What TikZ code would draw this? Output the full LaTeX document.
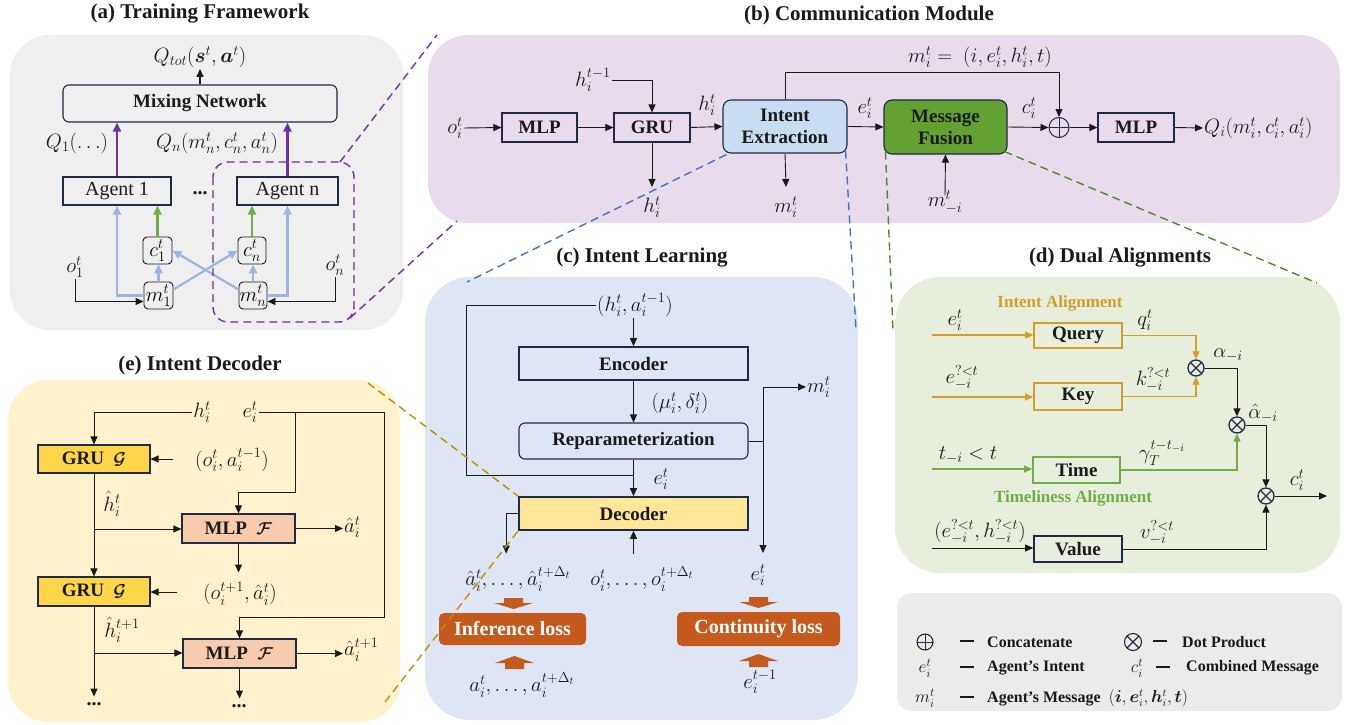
\documentclass[tikz,border=0pt]{standalone}
\usepackage{fontspec}
\setmainfont{Liberation Serif}
\usepackage{amsmath,bm}
\usetikzlibrary{arrows.meta,calc}

\definecolor{navy}{HTML}{1F2A44}
\definecolor{ink}{HTML}{1A1A1A}
\definecolor{panA}{HTML}{EFEFEF}
\definecolor{panB}{HTML}{E8DCEC}
\definecolor{panC}{HTML}{DEE5F5}
\definecolor{panD}{HTML}{E7EFDC}
\definecolor{panE}{HTML}{FFF2CC}
\definecolor{panL}{HTML}{EBEBEB}
\definecolor{purp}{HTML}{7030A0}
\definecolor{lblue}{HTML}{9DB4E2}
\definecolor{agreen}{HTML}{70AD47}
\definecolor{fusion}{HTML}{62A132}
\definecolor{intentfill}{HTML}{C8DDF2}
\definecolor{decfill}{HTML}{FFE699}
\definecolor{grufill}{HTML}{FFD54A}
\definecolor{mlpfill}{HTML}{F8CBAD}
\definecolor{lossfill}{HTML}{C55A1E}
\definecolor{gold}{HTML}{D09F2C}
\definecolor{dgold}{HTML}{BF9000}
\definecolor{dblue}{HTML}{4472C4}
\definecolor{dgreen}{HTML}{4E8A2E}

\newcommand{\legdash}{\rule[0.32ex]{14pt}{1.7pt}}

\tikzset{
  title/.style={font=\bfseries\fontsize{21}{24}\selectfont, text=ink},
  lbl/.style={font=\fontsize{21}{23}\selectfont, inner sep=1pt, text=ink},
  boxb/.style={draw=navy, line width=1.1pt, font=\bfseries\fontsize{19}{21}\selectfont,
    text=ink, inner sep=0pt, align=center},
  boxr/.style={draw=navy, line width=1.1pt, font=\fontsize{20}{22}\selectfont,
    text=ink, inner sep=0pt},
  tinybox/.style={draw=ink, line width=0.9pt, rounded corners=4pt, inner sep=0pt,
    font=\fontsize{21}{23}\selectfont},
  arr/.style={-{Triangle[length=8pt,width=7pt]}, line width=0.9pt, draw=ink},
  plainline/.style={line width=0.9pt, draw=ink},
  parr/.style={-{Triangle[length=9pt,width=8pt]}, line width=2.2pt, draw=purp},
  garrow/.style={-{Triangle[length=9pt,width=8pt]}, line width=2.2pt, draw=agreen},
  barr/.style={-{Triangle[length=9pt,width=8pt]}, line width=2.2pt, draw=lblue},
  goldarr/.style={-{Triangle[length=8pt,width=7pt]}, line width=1.1pt, draw=gold},
  grnarr/.style={-{Triangle[length=8pt,width=7pt]}, line width=1.1pt, draw=agreen},
  oplusc/.style={circle, draw=navy, line width=1pt, minimum size=20pt, inner sep=0pt,
    path picture={\draw[navy, line width=1pt]
      (path picture bounding box.north) -- (path picture bounding box.south)
      (path picture bounding box.west) -- (path picture bounding box.east);}},
  otimesc/.style={circle, draw=navy, line width=1.3pt, minimum size=16pt, inner sep=0pt,
    path picture={\draw[navy, line width=1.3pt]
      (path picture bounding box.north east) -- (path picture bounding box.south west)
      (path picture bounding box.north west) -- (path picture bounding box.south east);}},
  pdash/.style={dash pattern=on 8pt off 5pt, line width=1.4pt},
  legtxt/.style={font=\bfseries\fontsize{16}{18}\selectfont, text=ink, inner sep=0pt},
  lossbox/.style={fill=lossfill, rounded corners=5pt, text=white,
    font=\bfseries\fontsize{20}{22}\selectfont, inner sep=0pt},
}

\begin{document}
\begin{tikzpicture}[x=1pt,y=-1pt]
\useasboundingbox (0,0) rectangle (1353,725);

% ---------------- panel backgrounds ----------------
\fill[panA, rounded corners=40pt] (10,35) rectangle (403,330);
\fill[panB, rounded corners=40pt] (428,35) rectangle (1340,223);
\fill[panC, rounded corners=45pt] (425,277) rectangle (858,720);
\fill[panD, rounded corners=45pt] (895,277) rectangle (1340,573);
\fill[panE, rounded corners=40pt] (8,380) rectangle (400,722);
\fill[panL, rounded corners=15pt] (897,593) rectangle (1342,711);

% ---------------- titles ----------------
\node[title] (ta) at (200,14) {(a) Training Framework};
\node[title] (tb) at (869,15) {(b) Communication Module};
\node[title] (tc) at (642,258) {(c) Intent Learning};
\node[title] (td) at (1120,258) {(d) Dual Alignments};
\node[title] (te) at (200,365) {(e) Intent Decoder};

% ================= (a) Training Framework =================
\node[lbl] (qtot) at (200,57) {$Q_{tot}(\bm{s}^t,\bm{a}^t)$};
\node[boxb, rounded corners=6pt, minimum width=274pt, minimum height=37pt] (mix) at (200,103.5) {Mixing Network};
\draw[arr, line width=1.4pt] (mix.north) -- (qtot.south);
\node[boxr, minimum width=108pt, minimum height=28pt] (ag1) at (117,191) {Agent 1};
\node[boxr, minimum width=101pt, minimum height=28pt] (agn) at (287.5,191) {Agent n};
\node[font=\bfseries\fontsize{20}{22}\selectfont, text=ink] (adots) at (200,193) {...};
\node[lbl] (q1) at (77,143) {$Q_1(\ldots)$};
\node[lbl] (qn) at (217,143) {$Q_n(m_n^t,c_n^t,a_n^t)$};
\draw[parr] (ag1.north) -- (ag1.north |- mix.south);
\draw[parr] (agn.north) -- (agn.north |- mix.south);

\node[tinybox, minimum width=29pt, minimum height=27pt] (c1) at (157.5,250.5) {$c_1^t$};
\node[tinybox, minimum width=28pt, minimum height=27pt] (cn) at (252,250.5) {$c_n^t$};
\node[tinybox, minimum width=29pt, minimum height=27pt] (m1) at (158.5,295.5) {$m_1^t$};
\node[tinybox, minimum width=28pt, minimum height=27pt] (mn) at (253,295.5) {$m_n^t$};

\draw[garrow] (c1.north) -- (c1.north |- ag1.south);
\draw[garrow] (cn.north) -- (cn.north |- agn.south);
\draw[barr] (m1.north) -- (m1.north |- c1.south);
\draw[barr] (mn.north) -- (mn.north |- cn.south);
\draw[barr] (m1.west) -| (ag1.south);
\draw[barr] (mn.east) -| (agn.south);
\draw[barr] ($(m1.east)+(0,-6)$) -- (cn.west);
\draw[barr] ($(mn.west)+(0,-6)$) -- (c1.east);

\node[lbl] (o1) at (75,267) {$o_1^t$};
\node[lbl] (on) at (335,265) {$o_n^t$};
\draw[arr] (o1.south) |- ([yshift=-6pt]m1.west);
\draw[arr] (on.south) |- ([yshift=-6pt]mn.east);

\draw[purp, pdash, rounded corners=15pt] (213,162) rectangle (354,322);
\coordinate (pa1) at (340,162);
\coordinate (pa2) at (350,318);
\coordinate (pb1) at (437,35);
\coordinate (pb2) at (457,221);
\draw[purp, pdash] (pa1) -- (pb1);
\draw[purp, pdash] (pa2) -- (pb2);

% ================= (b) Communication Module =================
\node[lbl] (oi) at (455,128) {$o_i^t$};
\node[boxb, minimum width=75pt, minimum height=29pt] (mlpa) at (539.5,127.5) {MLP};
\node[boxb, minimum width=76pt, minimum height=29pt] (gru) at (652,127.5) {GRU};
\node[boxb, rounded corners=8pt, fill=intentfill, minimum width=124pt, minimum height=53pt,
  font=\bfseries\fontsize{19}{22}\selectfont] (ie) at (785,126.5) {Intent\\Extraction};
\node[boxb, rounded corners=8pt, fill=fusion, minimum width=123pt, minimum height=54pt,
  font=\bfseries\fontsize{19}{22}\selectfont] (fus) at (945.5,127) {Message\\Fusion};
\node[oplusc] (plus) at (1059,127.5) {};
\node[boxb, minimum width=76pt, minimum height=29pt] (mlpb) at (1136,127.5) {MLP};
\node[lbl, anchor=west] (qi) at (1203,128) {$Q_i(m_i^t,c_i^t,a_i^t)$};

\node[lbl] (hprev) at (593,80) {$h_i^{t-1}$};
\node[lbl] (hb) at (652,207) {$h_i^t$};
\node[lbl] (hab) at (707,105) {$h_i^t$};
\node[lbl] (mb) at (786,207) {$m_i^t$};
\node[lbl] (eb) at (865,108) {$e_i^t$};
\node[lbl] (mneg) at (945,202) {$m_{-i}^t$};
\node[lbl] (cb) at (1029,108) {$c_i^t$};
\node[lbl] (meq) at (980,57) {$m_i^t =\ (i,e_i^t,h_i^t,t)$};

\draw[arr] (oi.east) -- (mlpa.west);
\draw[arr] (mlpa.east) -- (gru.west);
\draw[arr] (hprev.east) -| (gru.north);
\draw[arr] (gru.south) -- ([yshift=8pt]hb.north);
\draw[arr] (gru.east) -- (ie.west);
\draw[arr] (ie.north) -- ++(0,-27) -| (plus.north);
\draw[arr] (ie.south) -- ([yshift=8pt]mb.north);
\draw[arr] (ie.east) -- (fus.west);
\draw[arr] ([yshift=-6pt]mneg.north) -- (fus.south);
\draw[arr] (fus.east) -- (plus.west);
\draw[arr] (plus.east) -- (mlpb.west);
\draw[arr] (mlpb.east) -- (qi.west);

% zoom lines towards (c) and (d)
\coordinate (cc1) at (467,282);
\coordinate (cc2) at (856,330);
\coordinate (dd1) at (893,330);
\coordinate (dd2) at (1317,283);
\draw[dblue, pdash] ([xshift=4pt,yshift=-1pt]ie.south west) -- (cc1);
\draw[dblue, pdash] ([xshift=-2pt,yshift=3pt]ie.south east) -- (cc2);
\draw[dgreen, pdash] ([xshift=2pt,yshift=3pt]fus.south west) -- (dd1);
\draw[dgreen, pdash] ([xshift=-3pt,yshift=3pt]fus.south east) -- (dd2);

% ================= (c) Intent Learning =================
\node[lbl] (hin) at (635,305) {$(h_i^t,a_i^{t-1})$};
\node[boxb, line width=1.6pt, minimum width=229pt, minimum height=33pt] (enc) at (633.5,363.5) {Encoder};
\node[boxb, rounded corners=6pt, minimum width=229pt, minimum height=36pt] (rep) at (633.5,441) {Reparameterization};
\node[boxb, line width=1.6pt, fill=decfill, minimum width=229pt, minimum height=33pt] (dec) at (633.5,513.5) {Decoder};
\node[lbl] (mu) at (680,403) {$(\mu_i^t,\delta_i^t)$};
\node[lbl] (ec) at (661,479) {$e_i^t$};

\draw[arr] (enc.north |- hin.south) -- (enc.north);
\draw[arr] (enc.south) -- (rep.north);
\draw[arr] (rep.south) -- (dec.north);
\coordinate (loopc) at (466,475);
\draw[plainline] (hin.west) -| (loopc) -- (loopc -| dec.north);

\node[lbl] (ahat) at (518,579) {$\hat a_i^t,\ldots,\hat a_i^{t+\Delta_t}$};
\node[lbl] (oseq) at (642,579) {$o_i^t,\ldots,o_i^{t+\Delta_t}$};
\node[lbl] (ec2) at (758,575) {$e_i^t$};
\node[lbl, anchor=west] (mc) at (806,387) {$m_i^t$};
\draw[arr] (dec.west) -- ++(-12,0) -- ++(0,40);
\draw[arr] (dec.south) ++(0,23) -- (dec.south);
\coordinate (vx) at (763,441);
\draw[plainline] (rep.east) -- (vx);
\draw[arr] (vx) |- (mc.west);
\draw[arr] (vx) -- ++(0,112);

\node[lossbox, minimum width=147pt, minimum height=32pt] (infl) at (512.5,629) {Inference loss};
\node[lossbox, minimum width=163pt, minimum height=34pt] (contl) at (758.5,629) {Continuity loss};
\node[lbl] (aseq) at (522,685) {$a_i^t,\ldots,a_i^{t+\Delta_t}$};
\node[lbl] (eprev) at (760,682) {$e_i^{t-1}$};

% block arrows into the loss boxes
\fill[lossfill] (504,598) rectangle (523,603) -- (533,603) -- (513.5,609) -- (494,603) -- cycle;
\fill[lossfill] (505,669) rectangle (524,663) -- (534,663) -- (514.5,656) -- (495,663) -- cycle;
\fill[lossfill] (749,597) rectangle (768,602) -- (778,602) -- (758.5,608) -- (739,602) -- cycle;
\fill[lossfill] (749,667) rectangle (768,661) -- (778,661) -- (758.5,654) -- (739,661) -- cycle;

% ================= (e) Intent Decoder =================
\node[lbl] (he) at (202,412) {$h_i^t$};
\node[lbl] (ee) at (250,412) {$e_i^t$};
\node[boxb, fill=grufill, minimum width=112pt, minimum height=28pt] (g1) at (94,459) {GRU~~$\bm{\mathcal{G}}$};
\node[boxb, fill=grufill, minimum width=112pt, minimum height=29pt] (g2) at (94,591.5) {GRU~~$\bm{\mathcal{G}}$};
\node[boxb, fill=mlpfill, minimum width=113pt, minimum height=29pt] (f1) at (238.5,528.5) {MLP~~$\bm{\mathcal{F}}$};
\node[boxb, fill=mlpfill, minimum width=113pt, minimum height=29pt] (f2) at (239.5,653.5) {MLP~~$\bm{\mathcal{F}}$};
\node[lbl] (oa1) at (232,460) {$(o_i^t,a_i^{t-1})$};
\node[lbl] (oa2) at (240,594) {$(o_i^{t+1},\hat a_i^t)$};
\node[lbl] (hh1) at (112,504) {$\hat h_i^t$};
\node[lbl] (hh2) at (122,630) {$\hat h_i^{t+1}$};
\node[lbl, anchor=west] (ah1) at (343,527) {$\hat a_i^t$};
\node[lbl, anchor=west] (ah2) at (343,650) {$\hat a_i^{t+1}$};
\node[font=\bfseries\fontsize{20}{22}\selectfont, text=ink] (dots1) at (94,704) {...};
\node[font=\bfseries\fontsize{20}{22}\selectfont, text=ink] (dots2) at (239,706) {...};

\draw[arr] (he.west) -| (g1.north);
\coordinate (e2turn) at (384,617);
\coordinate (e1turn) at (295,492);
\draw[arr] (ee.east) -| (e2turn) -| (f2.north);
\draw[arr] (e1turn |- ee.east) -- (e1turn) -| (f1.north);
\coordinate (oa1s) at (173,459);
\coordinate (oa2s) at (177,592);
\draw[arr] (oa1s) -- (oa1s -| g1.east);
\draw[arr] (oa2s) -- (oa2s -| g2.east);
\draw[arr] (g1.south) -- (g2.north);
\coordinate (br1) at (94,529);
\coordinate (br2) at (94,653);
\draw[arr] (br1) -- (br1 -| f1.west);
\draw[arr] (br2) -- (br2 -| f2.west);
\draw[arr] (f1.east) -- (ah1.west |- f1.east);
\draw[arr] (f2.east) -- (ah2.west |- f2.east);
\draw[arr] (f1.south) -- ++(0,29);
\draw[arr] (g2.south) -- ++(0,90);
\draw[arr] (f2.south) -- ++(0,30);

% zoom lines from (e) to the decoder
\coordinate (ye1) at (368,383);
\coordinate (ye2) at (385,702);
\draw[dgold, pdash] (ye1) -- (dec.north west);
\draw[dgold, pdash] (ye2) -- (dec.south west);

% ================= (d) Dual Alignments =================
\node[font=\bfseries\fontsize{17}{19}\selectfont, text=gold] (ia) at (1060,303) {Intent Alignment};
\node[font=\bfseries\fontsize{17}{19}\selectfont, text=agreen] (ta2) at (1073,498) {Timeliness Alignment};
\node[boxb, draw=gold, line width=1.6pt, minimum width=88pt, minimum height=25pt] (query) at (1078,335.5) {Query};
\node[boxb, draw=gold, line width=1.6pt, minimum width=88pt, minimum height=27pt] (key) at (1078,396.5) {Key};
\node[boxb, draw=agreen, line width=1.6pt, minimum width=87pt, minimum height=26pt] (time) at (1076.5,470) {Time};
\node[boxb, line width=1.6pt, minimum width=88pt, minimum height=26pt] (value) at (1078,549) {Value};
\node[otimesc] (x1) at (1196,368) {};
\node[otimesc] (x2) at (1237,425) {};
\node[otimesc] (x3) at (1266,496) {};

\node[lbl] (ed) at (955,320) {$e_i^t$};
\node[lbl] (emd) at (962,378) {$e_{-i}^{?<t}$};
\node[lbl] (tmd) at (968,455) {$t_{-i}<t$};
\node[lbl] (ehd) at (980,532) {$(e_{-i}^{?<t},h_{-i}^{?<t})$};
\node[lbl] (qd) at (1145,320) {$q_i^t$};
\node[lbl] (kd) at (1153,380) {$k_{-i}^{?<t}$};
\node[lbl] (gd) at (1162,453) {$\gamma_T^{t-t_{-i}}$};
\node[lbl] (vd) at (1157,533) {$v_{-i}^{?<t}$};
\node[lbl] (al) at (1228,355) {$\alpha_{-i}$};
\node[lbl] (alh) at (1263,413) {$\hat\alpha_{-i}$};
\node[lbl] (cd) at (1297,480) {$c_i^t$};

\coordinate (in1) at (932,335);
\coordinate (in2) at (932,397);
\coordinate (in3) at (932,469);
\coordinate (in4) at (932,548);
\coordinate (outc) at (1327,496);
\draw[goldarr] (in1) -- (in1 -| query.west);
\draw[goldarr] (in2) -- (in2 -| key.west);
\draw[grnarr] (in3) -- (in3 -| time.west);
\draw[arr] (in4) -- (in4 -| value.west);
\draw[goldarr] (query.east) -| (x1.north);
\draw[goldarr] (key.east) -| (x1.south);
\draw[arr] (x1.east) -| (x2.north);
\draw[grnarr] (time.east) -| (x2.south);
\draw[arr] (x2.east) -| (x3.north);
\draw[arr] (value.east) -| (x3.south);
\draw[arr] (x3.east) -- (outc);

% ================= legend =================
\node[oplusc, minimum size=16pt, draw=ink] (lg1) at (925,642) {};
\node[legtxt] (lgd1) at (967,642) {\legdash};
\node[legtxt, anchor=west] (lgt1) at (987,642) {Concatenate};
\node[otimesc, minimum size=17pt, draw=ink, line width=1pt] (lg2) at (1133,642) {};
\node[legtxt] (lgd2) at (1160,642) {\legdash};
\node[legtxt, anchor=west] (lgt2) at (1182,642) {Dot Product};
\node[lbl, font=\fontsize{17}{19}\selectfont] (lg3) at (925,668) {$e_i^t$};
\node[legtxt] (lgd3) at (967,668) {\legdash};
\node[legtxt, anchor=west] (lgt3) at (987,668) {Agent's Intent};
\node[lbl, font=\fontsize{17}{19}\selectfont] (lg4) at (1137,668) {$c_i^t$};
\node[legtxt] (lgd4) at (1163,668) {\legdash};
\node[legtxt, anchor=west] (lgt4) at (1186,668) {Combined Message};
\node[lbl, font=\fontsize{17}{19}\selectfont] (lg5) at (925,698) {$m_i^t$};
\node[legtxt] (lgd5) at (967,698) {\legdash};
\node[legtxt, anchor=west] (lgt5) at (987,698) {Agent's Message\ \ $(\bm{i},\bm{e}_i^t,\bm{h}_i^t,\bm{t})$};

\end{tikzpicture}
\end{document}
